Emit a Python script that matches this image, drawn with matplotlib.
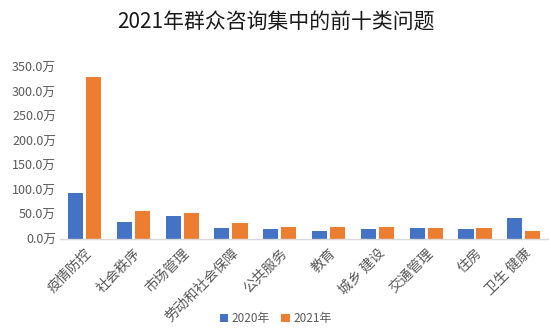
import matplotlib.pyplot as plt
import numpy as np

plt.rcParams['font.family'] = ['Noto Sans CJK SC', 'DejaVu Sans']

categories = ['疫情防控', '社会秩序', '市场管理', '劳动和社会保障', '公共服务',
              '教育', '城乡 建设', '交通管理', '住房', '卫生 健康']
values_2020 = [93, 34.5, 47, 22, 20, 16, 20, 22, 20, 43]
values_2021 = [329, 57, 53, 33, 24, 24, 24, 22, 22, 16]
yticks = [0, 50, 100, 150, 200, 250, 300, 350]

blue = '#4472C4'
orange = '#ED7D31'

fig = plt.figure(figsize=(5.51, 3.36), dpi=100)
ax = fig.add_axes([0.109, 0.289, 0.886, 0.512])

x = np.arange(len(categories))
w = 0.31
ax.bar(x - w / 2 - 0.03, values_2020, width=w, color=blue, label='2020年')
ax.bar(x + w / 2 + 0.03, values_2021, width=w, color=orange, label='2021年')

ax.set_xlim(-0.5, len(categories) - 0.5)
ax.set_ylim(0, 350)
ax.set_yticks(yticks)
ax.set_yticklabels([f'{v:.1f}万' for v in yticks], color='#595959', fontsize=9)
ax.set_xticks(x)
ax.set_xticklabels(categories, rotation=45, ha='right', rotation_mode='anchor',
                   color='#595959', fontsize=10)
ax.tick_params(length=0, pad=3)
ax.tick_params(axis='x', pad=5)

for s in ['top', 'right', 'left']:
    ax.spines[s].set_visible(False)
ax.spines['bottom'].set_color('#D9D9D9')
ax.spines['bottom'].set_linewidth(1)

fig.suptitle('2021年群众咨询集中的前十类问题', y=0.965, fontsize=15, color='#1a1a1a')

leg = fig.legend(loc='lower center', bbox_to_anchor=(0.5, 0.0), ncol=2, frameon=False,
                 fontsize=8.5, handlelength=0.7, handleheight=0.7, handletextpad=0.3,
                 columnspacing=1.0)
for t in leg.get_texts():
    t.set_color('#595959')

fig.savefig('out.png', dpi=100)
